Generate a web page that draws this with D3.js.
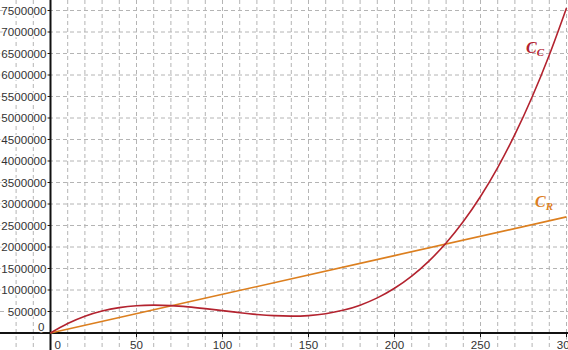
<!DOCTYPE html>
<html>
<head>
<meta charset="utf-8">
<script src="https://cdn.jsdelivr.net/npm/d3@7"></script>
<style>
	body { margin: 0; background: #fff; }
	.tick-label { font-family: "Liberation Sans", Arial, sans-serif; font-size: 11.6px; fill: #333; }
	.curve-label { font-family: "Liberation Serif", "DejaVu Serif", serif; font-style: italic; font-weight: bold; }
</style>
</head>
<body>
<script>

//chart values
var xValues = [0, 10, 20, 30, 40, 50, 60, 70, 80, 90, 100, 110, 120, 130, 140, 150,
	160, 170, 180, 190, 200, 210, 220, 230, 240, 250, 260, 270, 280, 290, 300];

//cost curve C_C (red)
var ccValues = [0, 220000, 390000, 510000, 590000, 635000, 648000, 637000, 608000, 567000, 520000,
	473000, 432000, 403000, 392000, 405000, 448000, 527000, 648000, 817000, 1040000,
	1323000, 1672000, 2093000, 2592000, 3175000, 3848000, 4617000, 5488000, 6467000, 7560000];

//revenue line C_R (orange)
var crX = [0, 100, 200, 300];
var crValues = [0, 900000, 1800000, 2700000];

//tick labels
var xTicks = [0, 50, 100, 150, 200, 250, 300];
var yTicks = [0, 500000, 1000000, 1500000, 2000000, 2500000, 3000000, 3500000,
	4000000, 4500000, 5000000, 5500000, 6000000, 6500000, 7000000, 7500000];

var width = 568,
	height = 350;

var xScale = d3.scaleLinear().domain([0, 300]).range([50.5, 566.5]),
	yScale = d3.scaleLinear().domain([0, 7500000]).range([333, 10.5]);

var svg = d3.select("body").append("svg")
	.attr("width", width)
	.attr("height", height);

//////////////
// grid
//////////////
var gridX = d3.range(-30, 310, 10),
	gridY = d3.range(-500000, 8000000, 500000);

svg.append("g").selectAll("line")
	.data(gridX).enter()
		.append("line")
		.attr("x1", function(d) { return xScale(d); })
		.attr("x2", function(d) { return xScale(d); })
		.attr("y1", 0)
		.attr("y2", height)
		.style("stroke", "#b4b4b4")
		.style("stroke-width", 1)
		.style("stroke-dasharray", "4,3");

svg.append("g").selectAll("line")
	.data(gridY).enter()
		.append("line")
		.attr("x1", 0)
		.attr("x2", width)
		.attr("y1", function(d) { return yScale(d); })
		.attr("y2", function(d) { return yScale(d); })
		.style("stroke", "#b4b4b4")
		.style("stroke-width", 1)
		.style("stroke-dasharray", "4,3");

//////////////
// axes
//////////////
svg.append("line")
	.attr("x1", 0).attr("x2", width)
	.attr("y1", yScale(0)).attr("y2", yScale(0))
	.style("stroke", "#111")
	.style("stroke-width", 2);
svg.append("line")
	.attr("x1", xScale(0)).attr("x2", xScale(0))
	.attr("y1", 0).attr("y2", height)
	.style("stroke", "#111")
	.style("stroke-width", 2);

//tick marks
svg.append("g").selectAll("line")
	.data(yTicks.filter(function(d) { return d > 0; })).enter()
		.append("line")
		.attr("x1", xScale(0) - 4)
		.attr("x2", xScale(0))
		.attr("y1", function(d) { return yScale(d); })
		.attr("y2", function(d) { return yScale(d); })
		.style("stroke", "#111");
svg.append("g").selectAll("line")
	.data(xTicks.filter(function(d) { return d > 0; })).enter()
		.append("line")
		.attr("x1", function(d) { return xScale(d); })
		.attr("x2", function(d) { return xScale(d); })
		.attr("y1", yScale(0))
		.attr("y2", yScale(0) + 4)
		.style("stroke", "#111");

//tick labels, white halo hides the grid behind them
svg.append("g").selectAll("text")
	.data(yTicks).enter()
		.append("text")
		.attr("class", "tick-label")
		.attr("x", function(d) { return d == 0 ? xScale(0) - 6 : xScale(0) - 4; })
		.attr("y", function(d) { return d == 0 ? yScale(0) - 6 : yScale(d); })
		.attr("dy", "0.36em")
		.style("text-anchor", "end")
		.style("stroke", "#fff")
		.style("stroke-width", 3)
		.style("paint-order", "stroke")
		.text(function(d) { return d; });

svg.append("g").selectAll("text")
	.data(xTicks).enter()
		.append("text")
		.attr("class", "tick-label")
		.attr("x", function(d) { return d == 0 ? xScale(0) + 4 : xScale(d); })
		.attr("y", yScale(0) + 16)
		.style("text-anchor", function(d) { return d == 0 ? "start" : "middle"; })
		.style("stroke", "#fff")
		.style("stroke-width", 3)
		.style("paint-order", "stroke")
		.text(function(d) { return d; });

//////////////
// curves
//////////////
var ccLine = d3.line()
	.x(function(d, i) { return xScale(xValues[i]); })
	.y(function(d) { return yScale(d); })
	.curve(d3.curveCatmullRom);

var crLine = d3.line()
	.x(function(d, i) { return xScale(crX[i]); })
	.y(function(d) { return yScale(d); });

svg.append("path")
	.datum(crValues)
	.attr("d", crLine)
	.style("fill", "none")
	.style("stroke", "#dc7f1f")
	.style("stroke-width", 1.6);

svg.append("path")
	.datum(ccValues)
	.attr("d", ccLine)
	.style("fill", "none")
	.style("stroke", "#b3232f")
	.style("stroke-width", 1.6);

//curve names
function addName(label, sub, x, y, color) {
	var t = svg.append("text")
		.attr("class", "curve-label")
		.attr("x", x)
		.attr("y", y)
		.style("fill", color)
		.style("font-size", "16px");
	t.append("tspan").text(label);
	t.append("tspan")
		.attr("dy", 3)
		.style("font-size", "11px")
		.text(sub);
}
addName("C", "C", 526, 53, "#b3232f");
addName("C", "R", 535, 207, "#dc7f1f");

</script>
</body>
</html>
